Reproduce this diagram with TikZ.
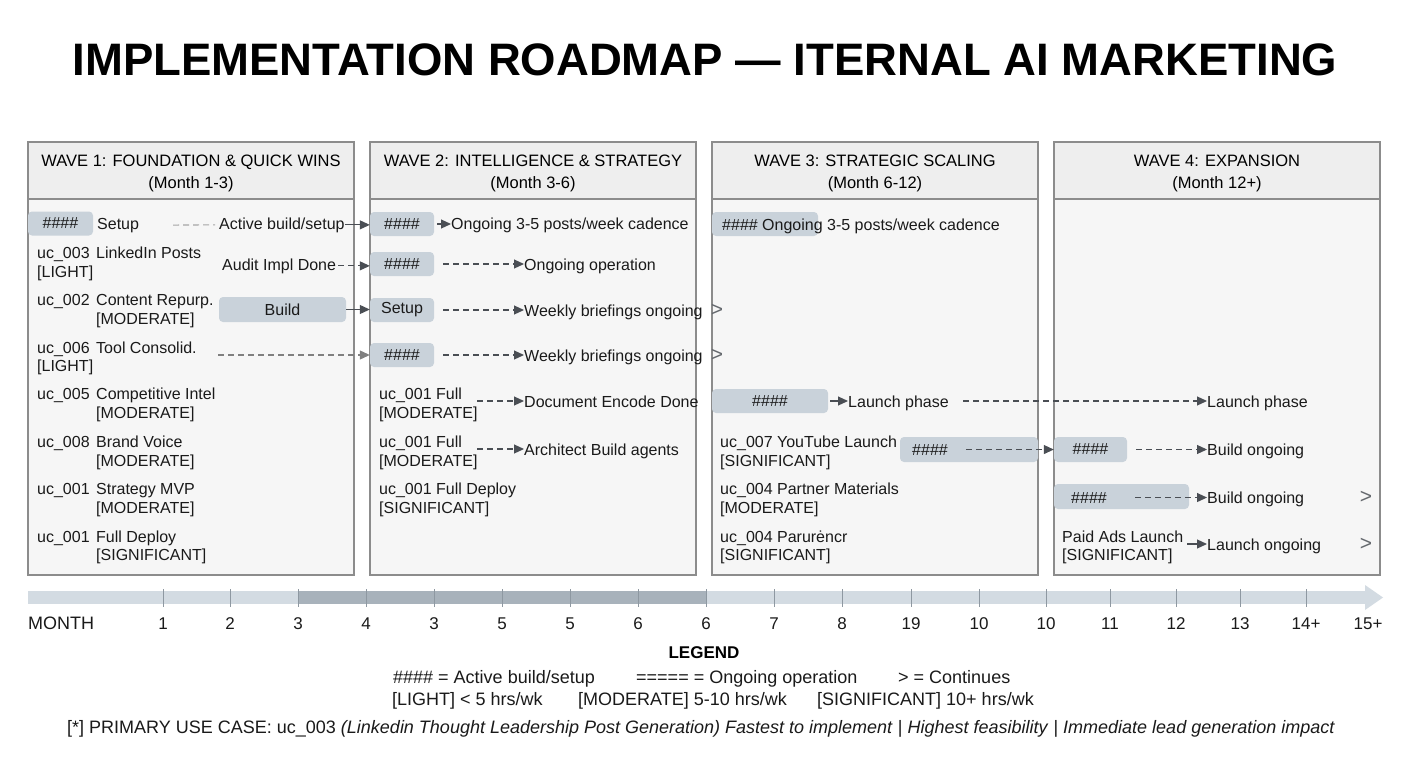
\documentclass[tikz,border=0pt]{standalone}
\usepackage{fontspec}
\setmainfont{Liberation Sans}
\usetikzlibrary{arrows.meta}
\definecolor{barc}{HTML}{C9D2DA}
\definecolor{arrc}{HTML}{4A4E54}
\definecolor{pbord}{HTML}{8C8C8C}
\definecolor{hfill}{HTML}{EEEEEE}
\definecolor{bfill}{HTML}{F6F6F6}
\definecolor{tlc}{HTML}{D3DBE2}
\definecolor{tld}{HTML}{A8B2BB}
\definecolor{tickc}{HTML}{8E98A1}
\definecolor{txt}{HTML}{1A1A1A}
\tikzset{
 panel/.style={draw=pbord, line width=1.1pt, fill=bfill},
 hdrbox/.style={draw=pbord, line width=1.1pt, fill=hfill},
 hdr/.style={align=center, font=\fontsize{16.5}{22}\selectfont, text=black},
 lbl/.style={anchor=base west, inner sep=0pt, font=\fontsize{16}{19}\selectfont, text=txt},
 bar/.style={fill=barc, rounded corners=4pt, inner sep=0pt, minimum height=24pt, font=\fontsize{16}{19}\selectfont, text=txt},
 arr/.style={draw=arrc, line width=1.1pt, -{Triangle[length=10pt,width=9pt]}},
 dsh/.style={dash pattern=on 6pt off 4pt},
 chev/.style={anchor=center, inner sep=0pt, font=\fontsize{21}{22}\selectfont, text=arrc!85},
 tl/.style={anchor=base, inner sep=0pt, font=\fontsize{17}{20}\selectfont, text=txt},
 leg/.style={anchor=base west, inner sep=0pt, font=\fontsize{18}{20}\selectfont, text=txt},
}
\begin{document}
\begin{tikzpicture}[x=1pt,y=-1pt]
\useasboundingbox (0,0) rectangle (1408,768);
\fill[white] (0,0) rectangle (1408,768);
% title
\node[font=\bfseries\fontsize{45.5}{50}\selectfont, text=black, inner sep=0pt] (title) at (705,60) {IMPLEMENTATION ROADMAP — ITERNAL AI MARKETING};
% panels
\foreach \i/\x in {1/28,2/370,3/712,4/1054}{
  \draw[panel] (\x,142) rectangle ++(326,433);
  \draw[hdrbox] (\x,142) rectangle ++(326,57);
}
\node[hdr] (h1) at (191,173) {WAVE 1: FOUNDATION \& QUICK WINS\\(Month 1-3)};
\node[hdr] (h2) at (533,173) {WAVE 2: INTELLIGENCE \& STRATEGY\\(Month 3-6)};
\node[hdr] (h3) at (875,173) {WAVE 3: STRATEGIC SCALING\\(Month 6-12)};
\node[hdr] (h4) at (1217,173) {WAVE 4: EXPANSION\\(Month 12+)};

% ---------- WAVE 2 bars (targets)
\node[bar, minimum width=64pt] (w2b1) at (402,224) {\#\#\#\#};
\node[bar, minimum width=64pt] (w2b2) at (402,264) {\#\#\#\#};
\node[bar, minimum width=64pt] (w2b3) at (402,310) {Setup};
\node[bar, minimum width=64pt] (w2b4) at (402,355) {\#\#\#\#};

% ---------- WAVE 1
\node[bar, minimum width=65pt] (w1b1) at (60.5,223.5) {\#\#\#\#};
\node[lbl] (w1setup) at (97,229) {Setup};
\node[lbl] (w1t1) at (219,229) {Active build/setup};
\draw[draw=gray!70, line width=1.1pt, dsh] ([xshift=34pt]w1setup.east) -- ([xshift=-4pt]w1t1.west);
\draw[arr] (w1t1.east) -- (w1t1.east -| w2b1.west);

\node[lbl] (w1id2) at (37,258) {uc\_003};
\node[lbl] (w1n2) at (96,258) {LinkedIn Posts};
\node[lbl] (w1g2) at (37,277) {[LIGHT]};
\node[lbl] (w1t2) at (222,270) {Audit Impl Done};
\draw[arr, dsh] ([xshift=2pt]w1t2.east) -- (w1t2.east -| w2b2.west);

\node[lbl] (w1id3) at (37,305) {uc\_002};
\node[lbl] (w1n3) at (96,305) {Content Repurp.};
\node[lbl] (w1g3) at (96,324) {[MODERATE]};
\node[bar, minimum width=127pt, minimum height=25pt] (w1b3) at (282.5,309.5) {Build};
\draw[arr] (w1b3.east) -- (w1b3.east -| w2b3.west);

\node[lbl] (w1id4) at (37,353) {uc\_006};
\node[lbl] (w1n4) at (96,353) {Tool Consolid.};
\node[lbl] (w1g4) at (37,371) {[LIGHT]};
\coordinate (w1c4) at (218,355);
\draw[arr, dsh, draw=gray] (w1c4) -- (w1c4 -| w2b4.west);

\node[lbl] (w1id5) at (37,399) {uc\_005};
\node[lbl] (w1n5) at (96,399) {Competitive Intel};
\node[lbl] (w1g5) at (96,418) {[MODERATE]};
\node[lbl] (w1id6) at (37,447) {uc\_008};
\node[lbl] (w1n6) at (96,447) {Brand Voice};
\node[lbl] (w1g6) at (96,466) {[MODERATE]};
\node[lbl] (w1id7) at (37,494) {uc\_001};
\node[lbl] (w1n7) at (96,494) {Strategy MVP};
\node[lbl] (w1g7) at (96,513) {[MODERATE]};
\node[lbl] (w1id8) at (37,542) {uc\_001};
\node[lbl] (w1n8) at (96,542) {Full Deploy};
\node[lbl] (w1g8) at (96,560) {[SIGNIFICANT]};

% ---------- WAVE 2 texts
\node[lbl] (w2t1) at (451,229) {Ongoing 3-5 posts/week cadence};
\draw[arr] ([xshift=3pt]w2b1.east) -- (w2b1.east -| w2t1.west);
\node[lbl] (w2t2) at (524,270) {Ongoing operation};
\draw[arr, dsh] ([xshift=9pt]w2b2.east) -- (w2b2.east -| w2t2.west);
\node[lbl] (w2t3) at (524,316) {Weekly briefings ongoing};
\draw[arr, dsh] ([xshift=9pt]w2b3.east) -- (w2b3.east -| w2t3.west);
\node[chev] (w2c3) at (717,310) {>};
\node[lbl] (w2t4) at (524,361) {Weekly briefings ongoing};
\draw[arr, dsh] ([xshift=9pt]w2b4.east) -- (w2b4.east -| w2t4.west);
\node[chev] (w2c4) at (717,355) {>};

\node[lbl] (w2id5) at (379,399) {uc\_001 Full};
\node[lbl] (w2g5) at (379,418) {[MODERATE]};
\node[lbl] (w2t5) at (524,407) {Document Encode Done};
\coordinate (w2c5) at (477,401);
\draw[arr, dsh] (w2c5) -- (w2c5 -| w2t5.west);
\node[lbl] (w2id6) at (379,447) {uc\_001 Full};
\node[lbl] (w2g6) at (379,466) {[MODERATE]};
\node[lbl] (w2t6) at (524,455) {Architect Build agents};
\coordinate (w2c6) at (477,449);
\draw[arr, dsh] (w2c6) -- (w2c6 -| w2t6.west);
\node[lbl] (w2id7) at (379,494) {uc\_001 Full Deploy};
\node[lbl] (w2g7) at (379,513) {[SIGNIFICANT]};

% ---------- WAVE 3
\node[bar, minimum width=106pt] (w3b1) at (765,224) {};
\node[lbl] (w3t1) at (722,230) {\#\#\#\# Ongoing 3-5 posts/week cadence};
\node[bar, minimum width=116pt] (w3b5) at (770,401) {\#\#\#\#};
\node[lbl] (w3t5) at (848,407) {Launch phase};
\draw[arr] ([xshift=2pt]w3b5.east) -- (w3b5.east -| w3t5.west);
\node[lbl] (w4t5) at (1207,407) {Launch phase};
\coordinate (w3c5) at (963,401);
\draw[arr, dsh] (w3c5) -- (w3c5 -| w4t5.west);

\node[lbl] (w3id6) at (720,447) {uc\_007 YouTube Launch};
\node[lbl] (w3g6) at (720,466) {[SIGNIFICANT]};
\node[bar, minimum width=138pt, minimum height=25pt] (w3b6) at (969,449.5) {};
\node[lbl] (w3h6) at (912,455) {\#\#\#\#};
\node[bar, minimum width=73pt, minimum height=25pt] (w4b6) at (1090.5,449.5) {\#\#\#\#};
\draw[arr, dsh] ([xshift=18pt]w3h6.east) -- (w3h6.east -| w4b6.west);

\node[lbl] (w3id7) at (720,494) {uc\_004 Partner Materials};
\node[lbl] (w3g7) at (720,513) {[MODERATE]};
\node[lbl] (w3id8) at (720,542) {uc\_004 Parurėncr};
\node[lbl] (w3g8) at (720,560) {[SIGNIFICANT]};

% ---------- WAVE 4
\node[lbl] (w4t6) at (1207,455) {Build ongoing};
\draw[arr, dsh] ([xshift=9pt]w4b6.east) -- (w4b6.east -| w4t6.west);
\node[bar, minimum width=135pt, minimum height=25pt] (w4b7) at (1121.5,496.5) {};
\node[lbl] (w4h7) at (1071,503) {\#\#\#\#};
\node[lbl] (w4t7) at (1207,503) {Build ongoing};
\draw[arr, dsh] ([xshift=28pt]w4h7.east) -- (w4h7.east -| w4t7.west);
\node[chev] (w4c7) at (1366,497) {>};
\node[lbl] (w4n8) at (1062,542) {Paid Ads Launch};
\node[lbl] (w4g8) at (1062,560) {[SIGNIFICANT]};
\node[lbl] (w4t8) at (1207,550) {Launch ongoing};
\coordinate (w4c8) at (1187,544);
\draw[arr] (w4c8) -- (w4c8 -| w4t8.west);
\node[chev] (w4c8b) at (1366,544) {>};

% ---------- timeline
\fill[tlc] (28,591) rectangle (1366,604);
\fill[tlc] (1365,585) -- (1383,597.5) -- (1365,610) -- cycle;
\fill[tld] (298,591) rectangle (706,604);
\foreach \x in {163,230,298,366,434,502,570,638,706,774,842,911,979,1046,1110,1176,1240,1306}
  \draw[tickc, line width=0.9pt] (\x,589) -- (\x,607);
\node[leg] (tlm) at (28,629) {MONTH};
\foreach \x/\t [count=\k] in {163/1,230/2,298/3,366/4,434/3,502/5,570/5,638/6,706/6,774/7,842/8,911/19,979/10,1046/10,1110/11,1176/12,1240/13,1306/14+,1368/15+}
  \node[tl] (tl\k) at (\x,629) {\t};

% ---------- legend
\node[font=\bfseries\fontsize{17}{20}\selectfont, anchor=base, inner sep=0pt] (legt) at (704,658) {LEGEND};
\node[leg] (lg1) at (393,683) {\#\#\#\# = Active build/setup};
\node[leg] (lg2) at (636,683) {===== = Ongoing operation};
\node[leg] (lg3) at (898,683) {> = Continues};
\node[leg] (lg4) at (392,705) {[LIGHT] < 5 hrs/wk};
\node[leg] (lg5) at (578,705) {[MODERATE] 5-10 hrs/wk};
\node[leg] (lg6) at (817,705) {[SIGNIFICANT] 10+ hrs/wk};
\node[leg] (foot) at (67,733) {[*] PRIMARY USE CASE: uc\_003 \textit{(Linkedin Thought Leadership Post Generation) Fastest to implement} | \textit{Highest feasibility} | \textit{Immediate lead generation impact}};
\end{tikzpicture}
\end{document}
